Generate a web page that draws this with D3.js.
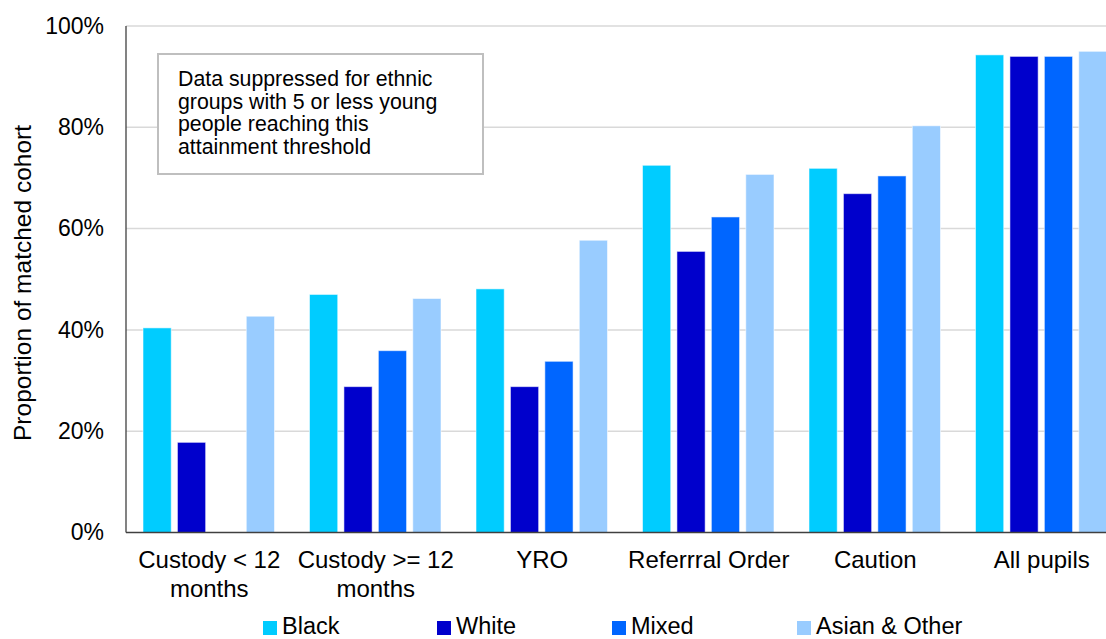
<!DOCTYPE html>
<html>
<head>
<meta charset="utf-8">
<script src="https://cdn.jsdelivr.net/npm/d3@7"></script>
<style>
  html, body { margin: 0; padding: 0; background: #fff; }
  svg { display: block; font-family: "Liberation Sans", Arial, sans-serif; }
</style>
</head>
<body>
<svg id="chart" width="1106" height="639"></svg>
<script>
// Attainment by sentence type and ethnic group
const categories = [
  ["Custody < 12", "months"],
  ["Custody >= 12", "months"],
  ["YRO"],
  ["Referrral Order"],
  ["Caution"],
  ["All pupils"]
];
const seriesNames = ["Black", "White", "Mixed", "Asian & Other"];
const seriesColors = ["#00ccff", "#0000cc", "#0066ff", "#99ccff"];
// Values in percent; null = suppressed (5 or fewer young people)
const black = [40.4, 47.0, 48.1, 72.5, 71.9, 94.3];
const white = [17.8, 28.8, 28.8, 55.5, 66.9, 94.0];
const mixed = [null, 35.9, 33.8, 62.3, 70.4, 94.0];
const asianOther = [42.7, 46.2, 57.7, 70.7, 80.3, 95.0];
const yTicks = [0, 20, 40, 60, 80, 100];
const noteLines = [
  "Data suppressed for ethnic",
  "groups with 5 or less young",
  "people reaching this",
  "attainment threshold"
];

const seriesValues = [black, white, mixed, asianOther];
const svg = d3.select("#chart");

const plot = { left: 126, right: 1125, top: 26, bottom: 532.5 };

const x0 = d3.scaleBand()
  .domain(d3.range(categories.length))
  .range([plot.left, plot.right])
  .padding(0);

const x1 = d3.scaleBand()
  .domain(d3.range(seriesNames.length))
  .range([17, 148.5])
  .paddingInner(0.18)
  .paddingOuter(0);

const y = d3.scaleLinear().domain([0, 100]).range([plot.bottom, plot.top]);

// Gridlines
svg.append("g")
  .selectAll("line")
  .data(yTicks.filter(d => d > 0))
  .join("line")
  .attr("x1", plot.left)
  .attr("x2", plot.right)
  .attr("y1", d => y(d))
  .attr("y2", d => y(d))
  .attr("stroke", "#d9d9d9")
  .attr("stroke-width", 1.5);

// Y axis labels
const yAxis = d3.axisLeft(y)
  .tickValues(yTicks)
  .tickFormat(d => d + "%")
  .tickSize(0)
  .tickPadding(22);
const gy = svg.append("g")
  .attr("transform", `translate(${plot.left},0)`)
  .call(yAxis);
gy.select(".domain").remove();
gy.selectAll("text")
  .attr("font-size", 23)
  .attr("font-family", "'Liberation Sans', Arial, sans-serif")
  .attr("fill", "#000");

// Bars
const barData = [];
categories.forEach((c, i) => {
  seriesValues.forEach((vals, s) => {
    if (vals[i] != null) barData.push({ cat: i, s, v: vals[i] });
  });
});

svg.append("g")
  .selectAll("rect")
  .data(barData)
  .join("rect")
  .attr("x", d => x0(d.cat) + x1(d.s))
  .attr("width", x1.bandwidth())
  .attr("y", d => y(d.v))
  .attr("height", d => y(0) - y(d.v))
  .attr("fill", d => seriesColors[d.s])
  .attr("stroke", "rgba(255,255,255,0.55)")
  .attr("stroke-width", 1);

// Axis lines
svg.append("line")
  .attr("x1", plot.left).attr("x2", plot.left)
  .attr("y1", plot.top).attr("y2", plot.bottom)
  .attr("stroke", "#404040").attr("stroke-width", 1.3);
svg.append("line")
  .attr("x1", plot.left).attr("x2", plot.right)
  .attr("y1", plot.bottom).attr("y2", plot.bottom)
  .attr("stroke", "#404040").attr("stroke-width", 1.3);

// Category labels
const catG = svg.append("g")
  .selectAll("text")
  .data(categories)
  .join("text")
  .attr("x", (d, i) => x0(i) + x0.bandwidth() / 2)
  .attr("y", 568)
  .attr("text-anchor", "middle")
  .attr("font-size", 24)
  .attr("fill", "#000");
catG.selectAll("tspan")
  .data((d, i) => d.map(t => ({ t, i })))
  .join("tspan")
  .attr("x", d => x0(d.i) + x0.bandwidth() / 2)
  .attr("dy", (d, k) => k === 0 ? 0 : 29)
  .text(d => d.t);

// Y axis title
svg.append("text")
  .attr("transform", "translate(31,283) rotate(-90)")
  .attr("text-anchor", "middle")
  .attr("font-size", 24.5)
  .attr("fill", "#000")
  .text("Proportion of matched cohort");

// Note box
svg.append("rect")
  .attr("x", 158).attr("y", 54)
  .attr("width", 325).attr("height", 120)
  .attr("fill", "#fff")
  .attr("stroke", "#bfbfbf")
  .attr("stroke-width", 2);
svg.append("g")
  .selectAll("text")
  .data(noteLines)
  .join("text")
  .attr("x", 178)
  .attr("y", (d, i) => 86 + i * 22.7)
  .attr("font-size", 21.3)
  .attr("fill", "#000")
  .text(d => d);

// Legend
const legendX = [263, 437, 612, 797];
const legend = svg.append("g")
  .selectAll("g")
  .data(seriesNames)
  .join("g")
  .attr("transform", (d, i) => `translate(${legendX[i]},0)`);
legend.append("rect")
  .attr("x", 0).attr("y", 621)
  .attr("width", 14).attr("height", 14)
  .attr("fill", (d, i) => seriesColors[i]);
legend.append("text")
  .attr("x", 19).attr("y", 634)
  .attr("font-size", 23.5)
  .attr("fill", "#000")
  .text(d => d);
</script>
</body>
</html>
